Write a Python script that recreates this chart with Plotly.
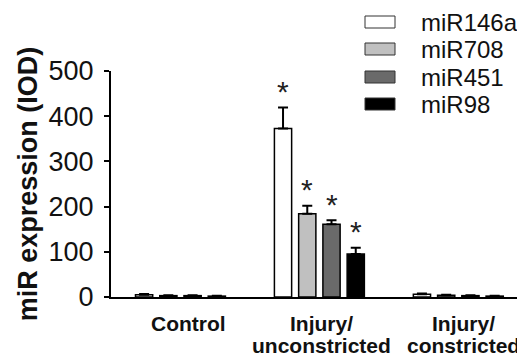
import plotly.graph_objects as go

groups = ["Control", "Injury/<br>unconstricted", "Injury/<br>constricted"]
series = ["miR146a", "miR708", "miR451", "miR98"]
colors = ["#ffffff", "#c0c0c0", "#6a6a6a", "#000000"]
values = {
    "miR146a": [5, 373, 6],
    "miR708": [3, 184, 4],
    "miR451": [3, 161, 3],
    "miR98": [2, 95, 2],
}
errors = {
    "miR146a": [1.5, 46, 1.5],
    "miR708": [1, 18, 1],
    "miR451": [1, 9, 1],
    "miR98": [1, 14, 1],
}
significant = {"miR146a": [False, True, False], "miR708": [False, True, False],
               "miR451": [False, True, False], "miR98": [False, True, False]}

FONT = "Liberation Sans, Arial, sans-serif"
pitch = 0.1745
bw = 0.124
OFF = 8  # page body margin
L, T, PH, PW = 111, 71, 226, 414  # window coords of plot area

fig = go.Figure()
annotations = []
for i, s in enumerate(series):
    xs = [g + (i - 1.5) * pitch for g in range(len(groups))]
    fig.add_trace(go.Bar(
        x=xs, y=values[s], width=bw, name=s,
        marker=dict(color=colors[i], line=dict(color="black", width=1.5)),
        error_y=dict(type="data", array=errors[s], arrayminus=[0] * len(groups),
                     symmetric=False, color="black", thickness=2, width=5),
        showlegend=False,
    ))
    for j, x in enumerate(xs):
        if significant[s][j]:
            annotations.append(dict(
                x=x, y=values[s][j] + errors[s][j], xref="x", yref="y",
                text="*", showarrow=False, yanchor="middle", yshift=16,
                font=dict(family=FONT, size=30, color="#222")))

# category labels (two lines, tight spacing)
label_shift = [8, 2, 5]
for j, g in enumerate(groups):
    lines = g.split("<br>")
    ys = [-26, -48][:len(lines)]
    for ln, ysh in zip(lines, ys):
        annotations.append(dict(x=j, y=0, xref="x", yref="y", text="<b>" + ln + "</b>",
                                showarrow=False, xanchor="center", yanchor="middle",
                                xshift=label_shift[j], yshift=ysh,
                                font=dict(family=FONT, size=21, color="#111")))

# manual legend
shapes = []
leg_y = [22, 49, 77, 104]
for i, s in enumerate(series):
    shapes.append(dict(type="rect", xref="paper", yref="paper",
                       x0=(365 - L) / PW, x1=(395 - L) / PW,
                       y0=1 - (leg_y[i] + 6 - T) / PH, y1=1 - (leg_y[i] - 6 - T) / PH,
                       fillcolor=colors[i], line=dict(color="#333", width=1)))
    annotations.append(dict(x=(419 - L) / PW, y=1 - (leg_y[i] - T) / PH,
                            xref="paper", yref="paper", text=s, showarrow=False,
                            xanchor="left", yanchor="middle",
                            font=dict(family=FONT, size=24, color="#111")))

W, H = 525 - OFF, 363 - OFF
fig.update_layout(
    width=W, height=H,
    margin=dict(l=L - OFF, r=W - (L - OFF) - PW, t=T - OFF, b=H - (T - OFF) - PH, autoexpand=False),
    paper_bgcolor="white", plot_bgcolor="white",
    barmode="overlay",
    shapes=shapes, annotations=annotations,
    font=dict(family=FONT, color="#111"),
)
fig.update_xaxes(
    range=[-0.5, 2.48], tickvals=[0, 1, 2], showticklabels=False, automargin=False,
    showline=True, linecolor="black", linewidth=2, ticks="", showgrid=False, zeroline=False,
)
fig.update_yaxes(
    range=[0, 500], tickvals=[0, 100, 200, 300, 400, 500], automargin=False,
    tickfont=dict(family=FONT, size=27, color="#111"), ticklabelstandoff=5,
    showline=True, linecolor="black", linewidth=2, ticks="outside", ticklen=5, tickwidth=1.5,
    tickcolor="black", showgrid=False, zeroline=False,
    title=dict(text="<b>miR expression (IOD)</b>", font=dict(family=FONT, size=27, color="#111"), standoff=3),
)
fig.write_html("out.html")
